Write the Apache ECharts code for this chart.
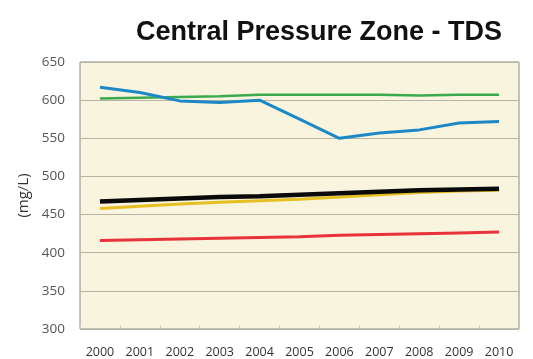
<!DOCTYPE html>
<html>
<head>
<meta charset="utf-8">
<script src="https://cdn.jsdelivr.net/npm/echarts@6/dist/echarts.min.js"></script>
<style>
  html, body { margin: 0; padding: 0; background: #fff; }
  #main { width: 533px; height: 359px; }
</style>
</head>
<body>
<div id="main"></div>
<script>
var years = ['2000', '2001', '2002', '2003', '2004', '2005', '2006', '2007', '2008', '2009', '2010'];
var blueVals = [617, 610, 599, 597, 600, 575, 550, 557, 561, 570, 572];
var greenVals = [602, 603, 604, 605, 607, 607, 607, 607, 606, 607, 607];
var blackVals = [467, 469, 471, 473, 474, 476, 478, 480, 482, 483, 484];
var yellowVals = [458, 461, 464, 466, 468, 470, 473, 476, 479, 481, 482];
var redVals = [416, 417, 418, 419, 420, 421, 423, 424, 425, 426, 427];

var myChart = echarts.init(document.getElementById('main'));

function line(name, data, color, width) {
    return {
        name: name,
        type: 'line',
        data: data,
        symbol: 'none',
        lineStyle: { color: color, width: width },
        itemStyle: { color: color }
    };
}

option = {
    animation: false,
    backgroundColor: '#ffffff',
    title: {
        text: 'Central Pressure Zone - TDS',
        left: 314,
        top: 14,
        textAlign: 'center',
        textStyle: {
            fontFamily: 'Liberation Sans',
            fontWeight: 'bold',
            fontSize: 27,
            color: '#111'
        }
    },
    grid: {
        left: 80,
        right: 14,
        top: 62,
        bottom: 30,
        show: true,
        backgroundColor: '#f8f4de',
        borderColor: '#8a8a8a',
        borderWidth: 1
    },
    xAxis: {
        type: 'category',
        data: years,
        boundaryGap: true,
        axisLine: { show: false },
        axisTick: { show: true, inside: true, length: 4, lineStyle: { color: '#cccccc' } },
        axisLabel: {
            margin: 17,
            fontFamily: 'Open Sans',
            fontSize: 12.5,
            color: '#333'
        }
    },
    yAxis: {
        type: 'value',
        min: 300,
        max: 650,
        interval: 50,
        name: '(mg/L)',
        nameLocation: 'middle',
        nameRotate: 90,
        nameGap: 48,
        nameTextStyle: {
            fontFamily: 'Open Sans',
            fontSize: 15,
            color: '#333'
        },
        axisLine: { show: false },
        axisTick: { show: false },
        axisLabel: {
            margin: 15,
            fontFamily: 'Open Sans',
            fontSize: 13.5,
            color: '#555'
        },
        splitLine: { lineStyle: { color: '#b8b4a4', width: 1 } }
    },
    series: [
        line('Green', greenVals, '#3aaa4e', 2.5),
        line('Blue', blueVals, '#1c88c6', 3),
        line('Red', redVals, '#e8333a', 3),
        line('Yellow', yellowVals, '#e6bf22', 3),
        line('Black', blackVals, '#0a0a0a', 4.5)
    ]
};

myChart.setOption(option);
window.onresize = myChart.resize;
</script>
</body>
</html>
